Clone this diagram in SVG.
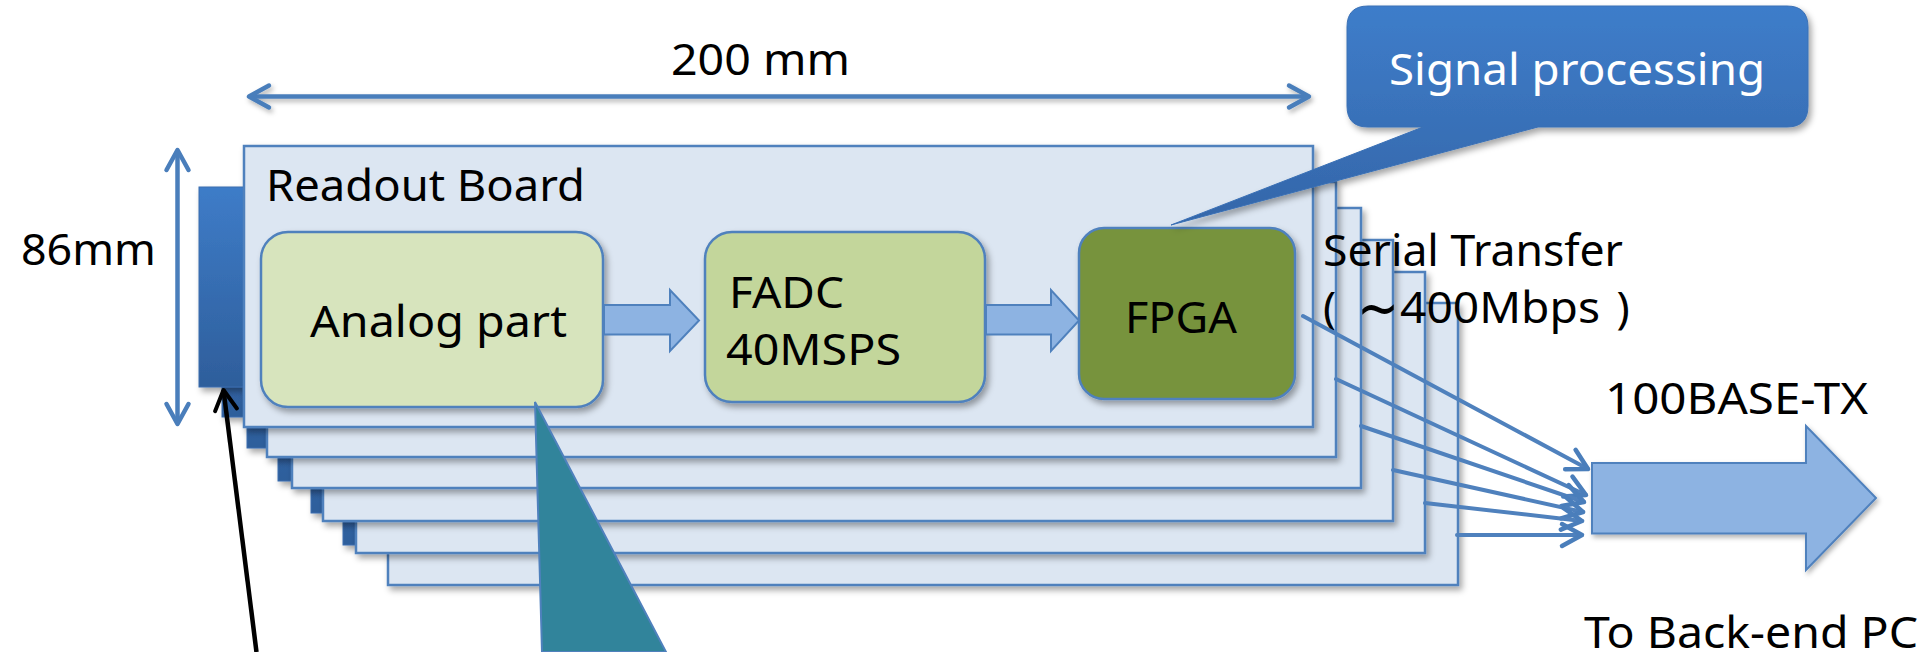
<svg xmlns="http://www.w3.org/2000/svg" width="1920" height="652" viewBox="0 0 1920 652">
<style>
.board{fill:#DCE6F2;stroke:#4F81BD;stroke-width:2.5}
.conn{fill:url(#gConn);stroke:#3A6DAE;stroke-width:1}
.box{stroke:#4F81BD;stroke-width:2.5}
.blk{fill:#8DB3E2;stroke:#4F81BD;stroke-width:2}
.lbl{font-family:"Noto Sans","Open Sans","Noto Sans CJK KR",sans-serif;font-size:44px;fill:#000}
.dim{stroke:#4A7EBB;stroke-width:4.5;fill:none;marker-start:url(#chev);marker-end:url(#chev)}
.wire{stroke:#4F81BD;stroke-width:4;fill:none;stroke-linecap:round;marker-end:url(#chev)}
</style>
<defs>
<linearGradient id="gConn" x1="0" y1="0" x2="0" y2="1"><stop offset="0" stop-color="#3E7CC8"/><stop offset="1" stop-color="#2E5E9B"/></linearGradient>
<linearGradient id="gCall" x1="0" y1="0" x2="0" y2="1"><stop offset="0" stop-color="#3E7DCA"/><stop offset="1" stop-color="#3466A9"/></linearGradient>
<filter id="sh" x="-5%" y="-10%" width="115%" height="130%"><feDropShadow dx="3" dy="4" stdDeviation="3" flood-color="#000" flood-opacity="0.35"/></filter>
<filter id="shs" x="-5%" y="-20%" width="115%" height="150%"><feDropShadow dx="2" dy="3" stdDeviation="2.5" flood-color="#000" flood-opacity="0.3"/></filter>
<filter id="shu" filterUnits="userSpaceOnUse" x="0" y="0" width="1920" height="652"><feDropShadow dx="2" dy="3" stdDeviation="2.5" flood-color="#000" flood-opacity="0.3"/></filter>
<marker id="chev" markerUnits="userSpaceOnUse" markerWidth="32" markerHeight="32" viewBox="0 0 32 32" refX="26" refY="16" orient="auto-start-reverse"><path d="M6 5 L26 16 L6 27" fill="none" stroke="#4A7EBB" stroke-width="4.5" stroke-linecap="round" stroke-linejoin="round"/></marker>
<marker id="chevK" markerUnits="userSpaceOnUse" markerWidth="32" markerHeight="32" viewBox="0 0 32 32" refX="26" refY="16" orient="auto"><path d="M6 5 L26 16 L6 27" fill="none" stroke="#000" stroke-width="4" stroke-linecap="round" stroke-linejoin="round"/></marker>
</defs>

<g id="dimensions">
<line class="dim" x1="249" y1="96.5" x2="1309" y2="96.5" filter="url(#shu)"/>
<text class="lbl" x="671" y="75" textLength="179" lengthAdjust="spacingAndGlyphs">200 mm</text>
<line class="dim" x1="177.5" y1="150" x2="177.5" y2="424"/>
<text class="lbl" x="21" y="265" textLength="135" lengthAdjust="spacingAndGlyphs">86mm</text>
</g>

<g id="board-6" filter="url(#sh)"><rect class="conn" x="343" y="345" width="45" height="200"/><rect class="board" x="388" y="303" width="1070" height="282"/></g>
<g id="board-5" filter="url(#sh)"><rect class="conn" x="311" y="313" width="45" height="200"/><rect class="board" x="356" y="272" width="1069" height="281"/></g>
<g id="board-4" filter="url(#sh)"><rect class="conn" x="278" y="281" width="45" height="200"/><rect class="board" x="323" y="240" width="1070" height="281"/></g>
<g id="board-3" filter="url(#sh)"><rect class="conn" x="247" y="248" width="45" height="200"/><rect class="board" x="292" y="208" width="1069" height="280"/></g>
<g id="board-2" filter="url(#sh)"><rect class="conn" x="222" y="217" width="45" height="200"/><rect class="board" x="267" y="182" width="1069" height="275"/></g>
<g id="board-main" filter="url(#sh)"><rect class="conn" x="199" y="187" width="45" height="200"/><rect class="board" x="244" y="146" width="1069" height="281"/></g>
<text class="lbl" x="266" y="201" textLength="319" lengthAdjust="spacingAndGlyphs">Readout Board</text>

<g id="analog"><rect class="box" x="261" y="232" width="342" height="175" rx="27" fill="#D7E4BD" filter="url(#sh)"/><text class="lbl" x="310" y="337" textLength="257" lengthAdjust="spacingAndGlyphs">Analog part</text></g>
<g id="fadc"><rect class="box" x="705" y="232" width="280" height="170" rx="27" fill="#C3D69B" filter="url(#sh)"/><text class="lbl" x="729" y="308" textLength="115" lengthAdjust="spacingAndGlyphs">FADC</text><text class="lbl" x="726" y="365" textLength="175" lengthAdjust="spacingAndGlyphs">40MSPS</text></g>
<g id="fpga"><rect class="box" x="1079" y="228" width="216" height="171" rx="25" fill="#77933C" filter="url(#sh)"/><text class="lbl" x="1125" y="333" textLength="112" lengthAdjust="spacingAndGlyphs">FPGA</text></g>

<g id="callout" filter="url(#sh)"><path d="M1368 6 H1787 Q1808 6 1808 27 V106 Q1808 127 1787 127 H1538 L1171 225 L1423 127 H1368 Q1347 127 1347 106 V27 Q1347 6 1368 6 Z" fill="url(#gCall)" stroke="#3A70B5" stroke-width="1"/></g>
<text id="callout-text" class="lbl" x="1389" y="85" style="fill:#fff" textLength="376" lengthAdjust="spacingAndGlyphs">Signal processing</text>

<g id="serial-label">
<text class="lbl" x="1323" y="266" textLength="300" lengthAdjust="spacingAndGlyphs">Serial Transfer</text>
<text class="lbl" x="1323" y="323">(<tspan x="1357" dy="6" font-family="'DejaVu Sans',sans-serif" font-size="62" textLength="42" lengthAdjust="spacingAndGlyphs">∼</tspan><tspan x="1400" dy="-6" textLength="200" lengthAdjust="spacingAndGlyphs">400Mbps</tspan><tspan x="1605"> )</tspan></text>
</g>

<g id="connectors">
<path class="blk" d="M604 305 H670 V290 L699 320.5 L670 351 V334.5 H604 Z"/>
<path class="blk" d="M986 305 H1051 V290 L1079 320.5 L1051 351 V334.5 H986 Z"/>
<line class="wire" x1="1303" y1="316" x2="1588" y2="469"/>
<line class="wire" x1="1336" y1="379" x2="1586" y2="495"/>
<line class="wire" x1="1361" y1="426" x2="1584" y2="502"/>
<line class="wire" x1="1393" y1="470" x2="1583" y2="512"/>
<line class="wire" x1="1425" y1="503" x2="1582" y2="521"/>
<line class="wire" x1="1457" y1="535" x2="1582" y2="535"/>
<line x1="256.5" y1="652" x2="223.5" y2="390" stroke="#000" stroke-width="4.5" marker-end="url(#chevK)"/>
</g>

<g id="ethernet-arrow"><path d="M1592 463 H1806 V426 L1876 498 L1806 570 V533.5 H1592 Z" fill="#8DB3E2" stroke="#4F81BD" stroke-width="2" filter="url(#shs)"/></g>
<text class="lbl" x="1605" y="414" textLength="263" lengthAdjust="spacingAndGlyphs">100BASE-TX</text>
<text class="lbl" x="1584" y="648" textLength="334" lengthAdjust="spacingAndGlyphs">To Back-end PC</text>

<g id="analog-callout"><polygon points="535,402 542,652 666,652" fill="#31849B" stroke="#4F81BD" stroke-width="2"/></g>
</svg>
